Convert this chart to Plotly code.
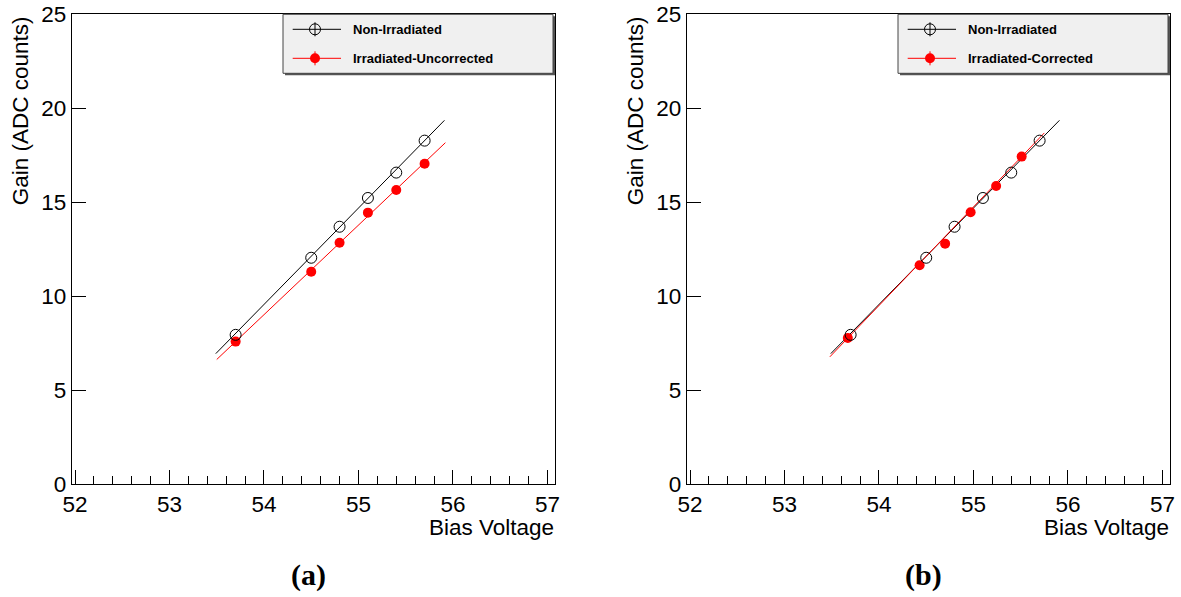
import plotly.graph_objects as go

# ---------------- data ----------------
bias_nonirr = [53.7, 54.5, 54.8, 55.1, 55.4, 55.7]
gain_nonirr = [7.95, 12.05, 13.70, 15.23, 16.58, 18.28]

bias_irr_uncorr = [53.7, 54.5, 54.8, 55.1, 55.4, 55.7]
gain_irr_uncorr = [7.59, 11.31, 12.85, 14.45, 15.65, 17.05]

bias_irr_corr = [53.67, 54.43, 54.70, 54.97, 55.24, 55.51]
gain_irr_corr = [7.78, 11.65, 12.80, 14.47, 15.87, 17.43]

fit_nonirr_x = [53.49, 55.91]
fit_nonirr_y = [6.95, 19.36]
fit_uncorr_x = [53.5, 55.92]
fit_uncorr_y = [6.64, 18.17]
fit_corr_x = [53.48, 55.75]
fit_corr_y = [6.78, 18.69]

x_ticks = [52, 53, 54, 55, 56, 57]
y_ticks = [0, 5, 10, 15, 20, 25]

legend_a = ["Non-Irradiated", "Irradiated-Uncorrected"]
legend_b = ["Non-Irradiated", "Irradiated-Corrected"]
captions = ["(a)", "(b)"]

# ---------------- geometry helpers ----------------
W, H = 1181, 597
def px(x):
    return x / W
def py(y):
    return 1 - y / H

FRAME_TOP, FRAME_BOT = 14.3, 484.3
PANELS = [(71.7, 555.0), (686.7, 1170.0)]
XR = [51.965, 57.08]

SANS = "Liberation Sans, Arial, Helvetica, sans-serif"

fig = go.Figure()

# panel a
fig.add_trace(go.Scatter(x=fit_nonirr_x, y=fit_nonirr_y, mode="lines",
                         line=dict(color="black", width=1), xaxis="x", yaxis="y"))
fig.add_trace(go.Scatter(x=fit_uncorr_x, y=fit_uncorr_y, mode="lines",
                         line=dict(color="#ff0000", width=1), xaxis="x", yaxis="y"))
fig.add_trace(go.Scatter(x=bias_irr_uncorr, y=gain_irr_uncorr, mode="markers",
                         marker=dict(symbol="circle", size=10, color="#ff0000", line=dict(width=0)),
                         xaxis="x", yaxis="y"))
fig.add_trace(go.Scatter(x=bias_nonirr, y=gain_nonirr, mode="markers",
                         marker=dict(symbol="circle-open", size=11, color="black", line=dict(width=1)),
                         xaxis="x", yaxis="y"))
# panel b
fig.add_trace(go.Scatter(x=fit_nonirr_x, y=fit_nonirr_y, mode="lines",
                         line=dict(color="black", width=1), xaxis="x2", yaxis="y2"))
fig.add_trace(go.Scatter(x=fit_corr_x, y=fit_corr_y, mode="lines",
                         line=dict(color="#ff0000", width=1), xaxis="x2", yaxis="y2"))
fig.add_trace(go.Scatter(x=bias_irr_corr, y=gain_irr_corr, mode="markers",
                         marker=dict(symbol="circle", size=10, color="#ff0000", line=dict(width=0)),
                         xaxis="x2", yaxis="y2"))
fig.add_trace(go.Scatter(x=bias_nonirr, y=gain_nonirr, mode="markers",
                         marker=dict(symbol="circle-open", size=11, color="black", line=dict(width=1)),
                         xaxis="x2", yaxis="y2"))

def xaxis(domain, anchor):
    return dict(domain=domain, anchor=anchor, range=XR, tickvals=x_ticks,
                ticktext=[str(v) for v in x_ticks], automargin=False,
                ticks="inside", ticklen=14, tickwidth=1, tickcolor="black",
                minor=dict(ticks="inside", ticklen=8, dtick=0.2, tick0=52, tickcolor="black", tickwidth=1),
                showline=True, linecolor="black", linewidth=1, mirror=True,
                showgrid=False, zeroline=False,
                tickfont=dict(family=SANS, size=22.5, color="black"))

def yaxis(anchor):
    return dict(domain=[py(FRAME_BOT), py(FRAME_TOP)], anchor=anchor, range=[0, 25],
                tickvals=y_ticks, ticktext=[str(v) for v in y_ticks], automargin=False,
                ticks="inside", ticklen=14, tickwidth=1, tickcolor="black",
                showline=True, linecolor="black", linewidth=1, mirror=True,
                showgrid=False, zeroline=False,
                tickfont=dict(family=SANS, size=22.5, color="black"))

shapes = []
annotations = []

legends = [legend_a, legend_b]
for i, (l, r) in enumerate(PANELS):
    # axis titles
    annotations.append(dict(x=px(r + 1), y=py(527), xref="paper", yref="paper",
                            text="Bias Voltage", showarrow=False, xanchor="right", yanchor="middle",
                            font=dict(family=SANS, size=22.5, color="black")))
    annotations.append(dict(x=px(l - 51), y=py(14), xref="paper", yref="paper",
                            text="Gain (ADC counts)", textangle=-90, showarrow=False,
                            xanchor="center", yanchor="top",
                            font=dict(family=SANS, size=22.5, color="black")))
    # caption
    annotations.append(dict(x=px((l + r) / 2 - 5), y=py(575), xref="paper", yref="paper",
                            text="<b>" + captions[i] + "</b>", showarrow=False,
                            xanchor="center", yanchor="middle",
                            font=dict(family="Liberation Serif, Times New Roman, serif", size=30, color="black")))
    # legend box
    bl = l + 211.3
    br = r - 2
    bt, bb = FRAME_TOP, 73.3
    shapes.append(dict(type="rect", xref="paper", yref="paper",
                       x0=px(bl + 2), x1=px(br + 2), y0=py(bb + 2), y1=py(bt + 2),
                       fillcolor="#555555", line=dict(width=0), layer="above"))
    shapes.append(dict(type="rect", xref="paper", yref="paper",
                       x0=px(bl), x1=px(br), y0=py(bb), y1=py(bt),
                       fillcolor="#f0f0f0", line=dict(color="#444444", width=1), layer="above"))
    rows = [29.3, 58.3]
    colors = ["black", "#ff0000"]
    for j, ry in enumerate(rows):
        c = colors[j]
        cx = bl + 32
        shapes.append(dict(type="line", xref="paper", yref="paper",
                           x0=px(bl + 9.7), x1=px(bl + 58), y0=py(ry), y1=py(ry),
                           line=dict(color=c, width=1), layer="above"))
        shapes.append(dict(type="line", xref="paper", yref="paper",
                           x0=px(cx), x1=px(cx), y0=py(ry - 7), y1=py(ry + 7),
                           line=dict(color=c, width=1), layer="above"))
        if j == 0:
            shapes.append(dict(type="circle", xref="paper", yref="paper",
                               x0=px(cx - 5.5), x1=px(cx + 5.5), y0=py(ry + 5.5), y1=py(ry - 5.5),
                               line=dict(color="black", width=1), fillcolor="rgba(0,0,0,0)", layer="above"))
        else:
            shapes.append(dict(type="circle", xref="paper", yref="paper",
                               x0=px(cx - 5), x1=px(cx + 5), y0=py(ry + 5), y1=py(ry - 5),
                               line=dict(color=c, width=0), fillcolor=c, layer="above"))
        annotations.append(dict(x=px(bl + 68), y=py(ry), xref="paper", yref="paper",
                                text="<b>" + legends[i][j] + "</b>", showarrow=False,
                                xanchor="left", yanchor="middle",
                                font=dict(family=SANS, size=13, color="black")))

fig.update_layout(
    width=W, height=H,
    margin=dict(l=0, r=0, t=0, b=0),
    paper_bgcolor="white", plot_bgcolor="white",
    showlegend=False,
    xaxis=xaxis([px(PANELS[0][0]), px(PANELS[0][1])], "y"),
    yaxis=yaxis("x"),
    xaxis2=xaxis([px(PANELS[1][0]), px(PANELS[1][1])], "y2"),
    yaxis2=yaxis("x2"),
    shapes=shapes,
    annotations=annotations,
)

fig.write_html("out.html")
